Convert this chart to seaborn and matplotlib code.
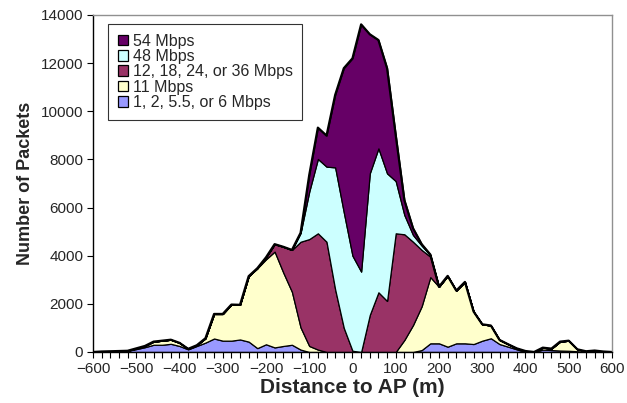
import numpy as np
import matplotlib
matplotlib.use("Agg")
import matplotlib.pyplot as plt
import seaborn as sns

# distance to AP (m), one bin every 20 m
distance = list(range(-600, 601, 20))

labels = ["1, 2, 5.5, or 6 Mbps", "11 Mbps", "12, 18, 24, or 36 Mbps", "48 Mbps", "54 Mbps"]
colors = ["#9999FF", "#FFFFCC", "#993366", "#CCFFFF", "#660066"]

rate_low = [0, 20, 30, 40, 50, 120, 200, 300, 300, 340, 250, 110, 250, 390, 560, 470,
            470, 520, 430, 160, 320, 190, 250, 300, 100, 0, 0, 0, 0, 0, 0, 0,
            0, 0, 0, 0, 0, 0, 80, 360, 360, 220, 360, 360, 330, 470, 570, 330,
            220, 110, 0, 0, 100, 80, 60, 50, 30, 0, 0, 0, 0]
rate_11 = [0, 0, 0, 0, 0, 30, 50, 130, 170, 170, 130, 20, 30, 180, 1020, 1110,
           1500, 1440, 2720, 3320, 3530, 3980, 3050, 2200, 920, 250, 100, 0, 0, 0, 0, 0,
           0, 0, 0, 0, 500, 1120, 1820, 2750, 2350, 2940, 2190, 2550, 1350, 680, 530, 170,
           100, 40, 40, 0, 80, 60, 370, 420, 80, 30, 60, 20, 0]
rate_mid = [0, 0, 0, 0, 0, 0, 0, 0, 0, 0, 0, 0, 0, 0, 0, 0,
            0, 0, 0, 0, 80, 310, 1070, 1740, 3560, 4440, 4830, 4580, 2600, 1000, 50, 0,
            1540, 2480, 2120, 4930, 4390, 3460, 2340, 850, 0, 0, 0, 0, 0, 0, 0, 0,
            0, 0, 0, 0, 0, 0, 0, 0, 0, 0, 0, 0, 0]
rate_48 = [0, 0, 0, 0, 0, 0, 0, 0, 0, 0, 0, 0, 0, 0, 0, 0,
           0, 0, 0, 0, 0, 0, 0, 0, 370, 1970, 3090, 3120, 5070, 4800, 3950, 3340,
           5880, 5980, 5300, 2170, 800, 280, 180, 60, 0, 0, 0, 0, 0, 0, 0, 0,
           0, 0, 0, 0, 0, 0, 0, 0, 0, 0, 0, 0, 0]
rate_54 = [0, 0, 0, 0, 0, 0, 0, 0, 0, 0, 0, 0, 0, 0, 0, 0,
           0, 0, 0, 0, 0, 0, 0, 0, 0, 690, 1300, 1290, 3010, 5990, 8200, 10270,
           5780, 4500, 4370, 1910, 620, 280, 60, 30, 0, 0, 0, 0, 0, 0, 0, 0,
           0, 0, 0, 0, 0, 0, 0, 0, 0, 0, 0, 0, 0]

sns.set_style("white")
plt.rcParams['font.family'] = ['Liberation Sans', 'DejaVu Sans']

fig = plt.figure(figsize=(6.27, 4.03), dpi=100)
ax = fig.add_axes([0.1483, 0.1266, 0.8277, 0.8362])

series = [rate_low, rate_11, rate_mid, rate_48, rate_54]
polys = ax.stackplot(distance, series, labels=labels, colors=colors,
                     edgecolor="black", linewidth=0.9)
total = np.sum(series, axis=0)
ax.plot(distance, total, color="black", lw=1.6)

ax.set_xlim(-600, 600)
ax.set_ylim(0, 14000)
ax.set_xticks(range(-600, 601, 100))
ax.set_xticks(distance, minor=True)
ax.set_yticks(range(0, 14001, 2000))
ax.tick_params(axis="both", which="major", direction="out", length=4, width=0.8,
               labelsize=11, color="black", bottom=True, left=True, pad=3)
ax.tick_params(axis="x", which="minor", direction="out", length=4, width=0.8,
               color="black", bottom=True)

for side in ["left", "bottom"]:
    ax.spines[side].set_color("black")
    ax.spines[side].set_linewidth(1.0)
for side in ["top", "right"]:
    ax.spines[side].set_color("#909090")
    ax.spines[side].set_linewidth(1.0)

ax.set_xlabel("Distance to AP (m)", fontsize=15, fontweight="bold", labelpad=2)
ax.set_ylabel("Number of Packets", fontsize=13, fontweight="bold", labelpad=5)

handles, labs = ax.get_legend_handles_labels()
leg = ax.legend(handles[::-1], labs[::-1], loc="upper left", bbox_to_anchor=(0.029, 0.973),
                fontsize=11.5, frameon=True, fancybox=False, edgecolor="black",
                handlelength=0.65, handleheight=0.65, handletextpad=0.3,
                labelspacing=0.02, borderpad=0.6, borderaxespad=0)
leg.get_frame().set_linewidth(0.8)

fig.savefig("out.png", dpi=100)
